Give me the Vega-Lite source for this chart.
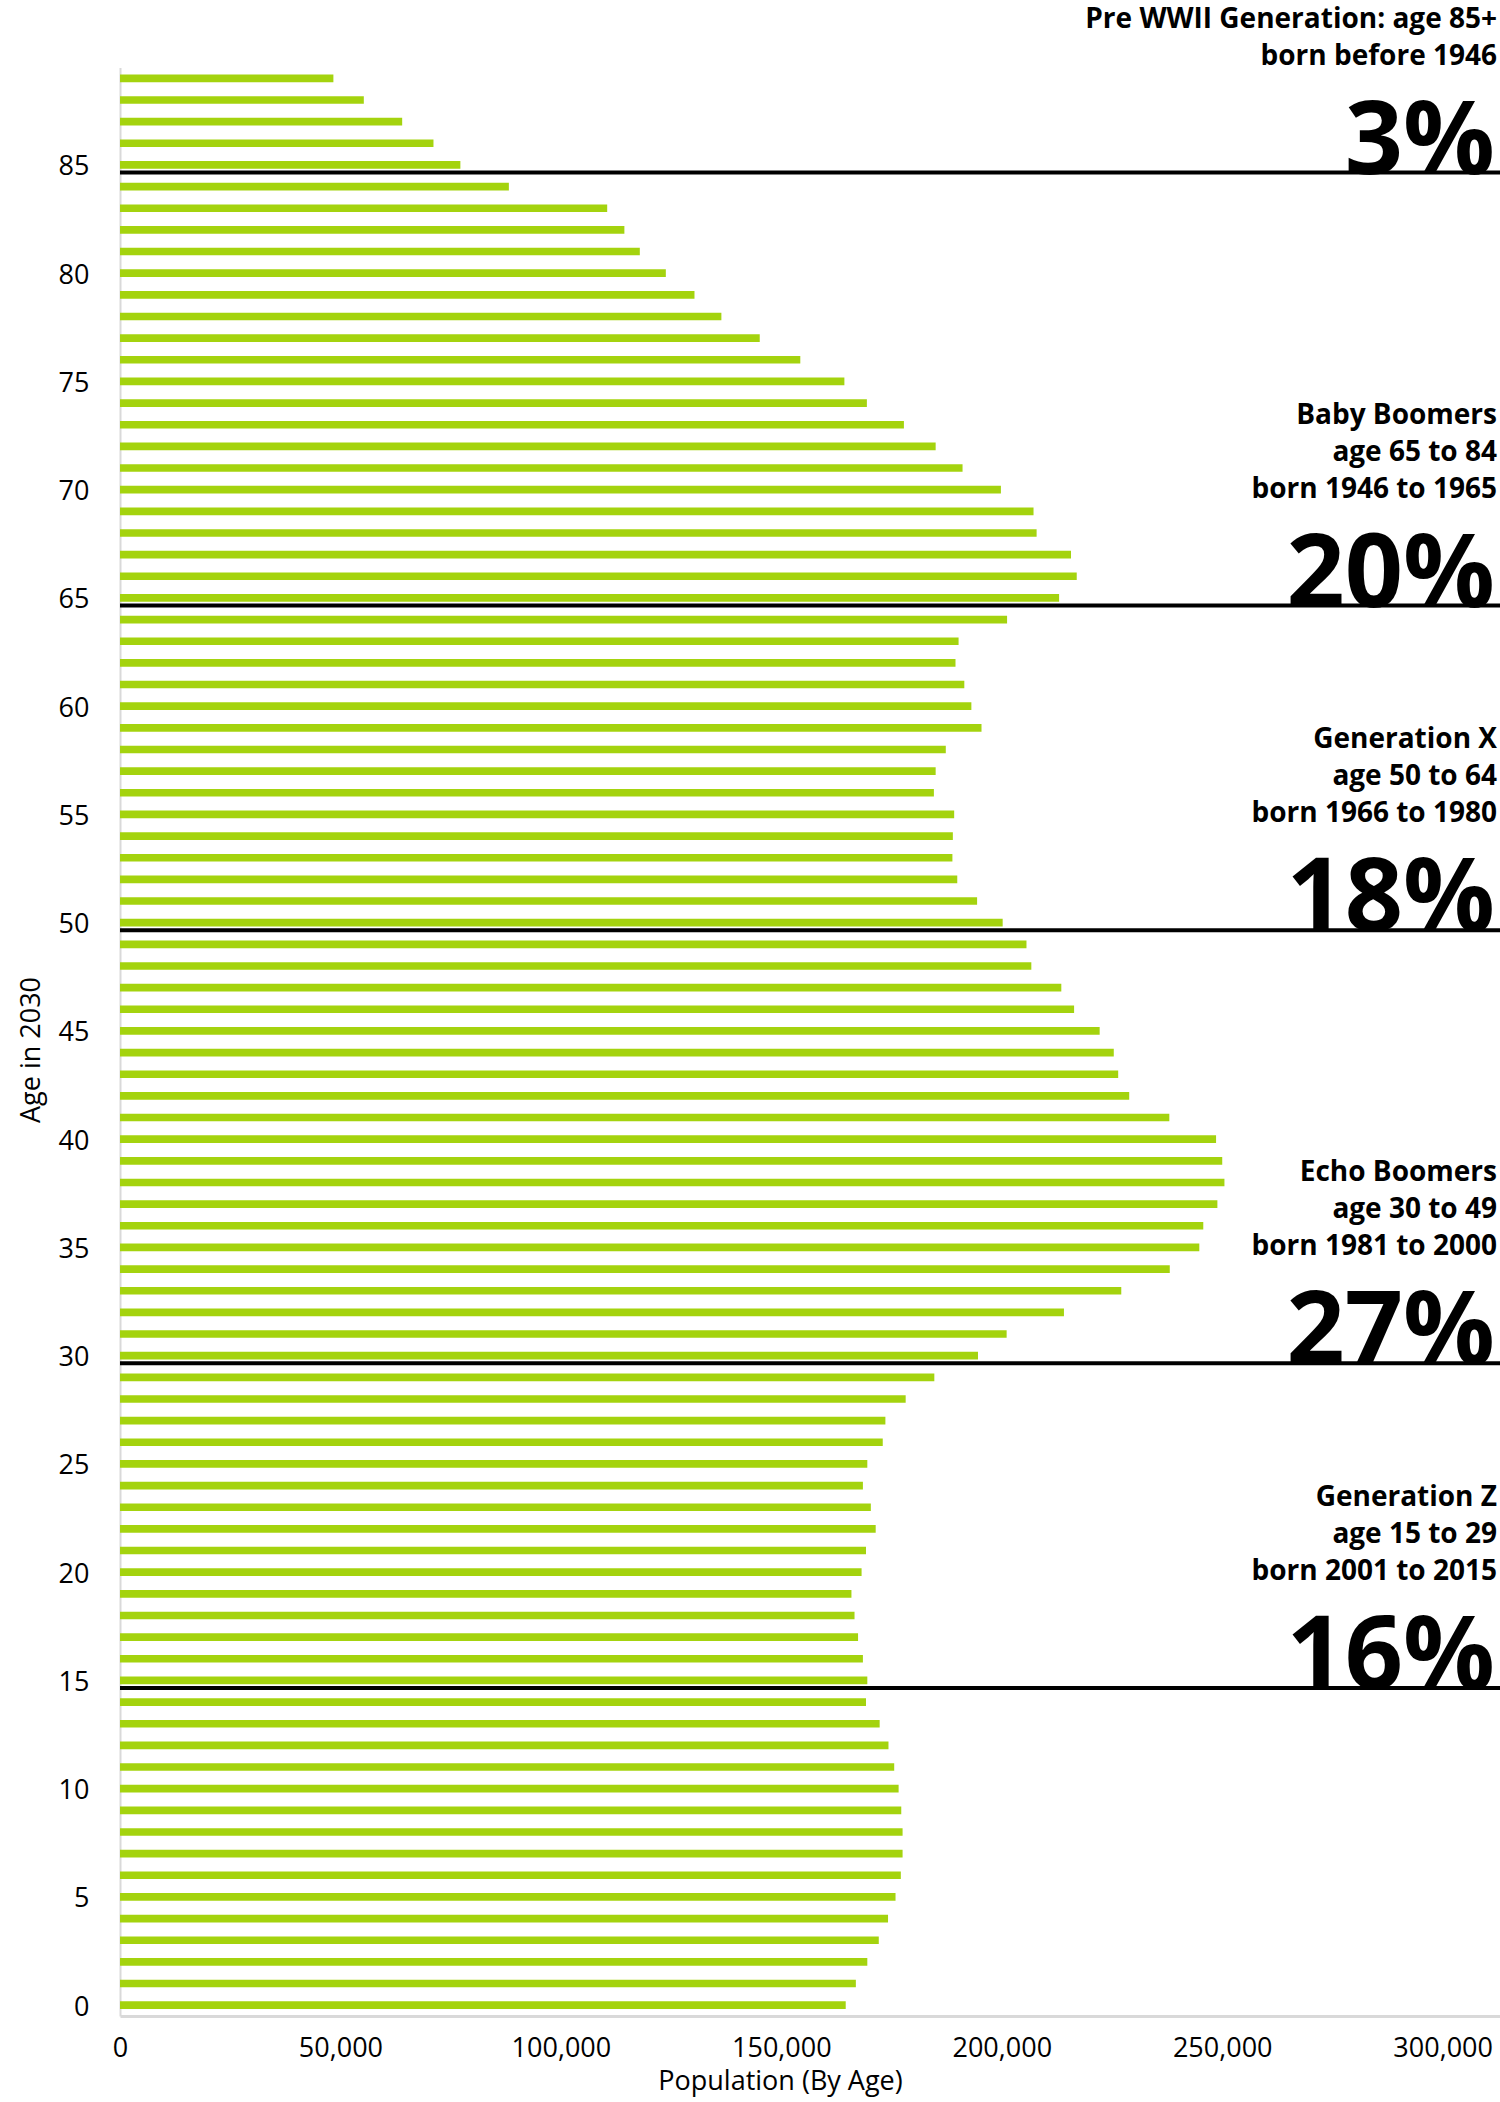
{
  "$schema": "https://vega.github.io/schema/vega-lite/v6.json",
  "width": 1380,
  "height": 1948.5,
  "autosize": {"type": "none"},
  "padding": {"left": 120, "top": 67.5, "right": 0, "bottom": 86},
  "background": "white",
  "config": {"view": {"stroke": null}, "font": "Open Sans"},
  "datasets": {
    "pop": [
      {"age": 89, "population": 48400}, {"age": 88, "population": 55300}, {"age": 87, "population": 64000},
      {"age": 86, "population": 71100}, {"age": 85, "population": 77200}, {"age": 84, "population": 88200},
      {"age": 83, "population": 110500}, {"age": 82, "population": 114400}, {"age": 81, "population": 117900},
      {"age": 80, "population": 123800}, {"age": 79, "population": 130300}, {"age": 78, "population": 136400},
      {"age": 77, "population": 145100}, {"age": 76, "population": 154300}, {"age": 75, "population": 164300},
      {"age": 74, "population": 169400}, {"age": 73, "population": 177800}, {"age": 72, "population": 185000},
      {"age": 71, "population": 191100}, {"age": 70, "population": 199800}, {"age": 69, "population": 207200},
      {"age": 68, "population": 207900}, {"age": 67, "population": 215700}, {"age": 66, "population": 217000},
      {"age": 65, "population": 213000}, {"age": 64, "population": 201200}, {"age": 63, "population": 190200},
      {"age": 62, "population": 189500}, {"age": 61, "population": 191500}, {"age": 60, "population": 193100},
      {"age": 59, "population": 195400}, {"age": 58, "population": 187300}, {"age": 57, "population": 185000},
      {"age": 56, "population": 184600}, {"age": 55, "population": 189200}, {"age": 54, "population": 188900},
      {"age": 53, "population": 188800}, {"age": 52, "population": 189900}, {"age": 51, "population": 194400},
      {"age": 50, "population": 200200}, {"age": 49, "population": 205600}, {"age": 48, "population": 206700},
      {"age": 47, "population": 213500}, {"age": 46, "population": 216400}, {"age": 45, "population": 222200},
      {"age": 44, "population": 225400}, {"age": 43, "population": 226400}, {"age": 42, "population": 228900},
      {"age": 41, "population": 238000}, {"age": 40, "population": 248600}, {"age": 39, "population": 250000},
      {"age": 38, "population": 250500}, {"age": 37, "population": 248900}, {"age": 36, "population": 245700},
      {"age": 35, "population": 244800}, {"age": 34, "population": 238100}, {"age": 33, "population": 227100},
      {"age": 32, "population": 214100}, {"age": 31, "population": 201100}, {"age": 30, "population": 194600},
      {"age": 29, "population": 184700}, {"age": 28, "population": 178200}, {"age": 27, "population": 173600},
      {"age": 26, "population": 173000}, {"age": 25, "population": 169500}, {"age": 24, "population": 168500},
      {"age": 23, "population": 170300}, {"age": 22, "population": 171400}, {"age": 21, "population": 169200},
      {"age": 20, "population": 168200}, {"age": 19, "population": 165900}, {"age": 18, "population": 166600},
      {"age": 17, "population": 167400}, {"age": 16, "population": 168500}, {"age": 15, "population": 169500},
      {"age": 14, "population": 169200}, {"age": 13, "population": 172300}, {"age": 12, "population": 174300},
      {"age": 11, "population": 175600}, {"age": 10, "population": 176600}, {"age": 9, "population": 177200},
      {"age": 8, "population": 177500}, {"age": 7, "population": 177500}, {"age": 6, "population": 177100},
      {"age": 5, "population": 175900}, {"age": 4, "population": 174200}, {"age": 3, "population": 172100},
      {"age": 2, "population": 169500}, {"age": 1, "population": 166900}, {"age": 0, "population": 164600}
    ],
    "groups": [
      {"age": 85, "line1": "", "line2": "Pre WWII Generation: age 85+", "line3": "born before 1946", "pct": "3%"},
      {"age": 65, "line1": "Baby Boomers", "line2": "age 65 to 84", "line3": "born 1946 to 1965", "pct": "20%"},
      {"age": 50, "line1": "Generation X", "line2": "age 50 to 64", "line3": "born 1966 to 1980", "pct": "18%"},
      {"age": 30, "line1": "Echo Boomers", "line2": "age 30 to 49", "line3": "born 1981 to 2000", "pct": "27%"},
      {"age": 15, "line1": "Generation Z", "line2": "age 15 to 29", "line3": "born 2001 to 2015", "pct": "16%"}
    ]
  },
  "layer": [
    {
      "data": {"name": "pop"},
      "mark": {"type": "bar", "color": "#a4d30e"},
      "encoding": {
        "y": {
          "field": "age",
          "type": "ordinal",
          "scale": {
            "domain": [89,88,87,86,85,84,83,82,81,80,79,78,77,76,75,74,73,72,71,70,69,68,67,66,65,64,63,62,61,60,59,58,57,56,55,54,53,52,51,50,49,48,47,46,45,44,43,42,41,40,39,38,37,36,35,34,33,32,31,30,29,28,27,26,25,24,23,22,21,20,19,18,17,16,15,14,13,12,11,10,9,8,7,6,5,4,3,2,1,0],
            "paddingInner": 0.645,
            "paddingOuter": 0.3225
          },
          "axis": {
            "values": [0,5,10,15,20,25,30,35,40,45,50,55,60,65,70,75,80,85],
            "title": "Age in 2030",
            "labelFont": "Open Sans",
            "labelFontSize": 27,
            "labelColor": "#000000",
            "labelAngle": 0,
            "labelOffset": 2.5,
            "ticks": false,
            "tickSize": 0,
            "labelPadding": 31,
            "domainColor": "#d9d9d9",
            "domainWidth": 2,
            "grid": false,
            "titleFont": "Open Sans",
            "titleFontSize": 27,
            "titleFontWeight": "normal",
            "titleColor": "#000000",
            "titleAngle": -90,
            "titleAlign": "center",
            "titleBaseline": "alphabetic",
            "titleX": -81,
            "titleY": 982
          }
        },
        "x": {
          "field": "population",
          "type": "quantitative",
          "scale": {"domain": [0, 313000], "nice": false},
          "axis": {
            "values": [0,50000,100000,150000,200000,250000,300000],
            "format": ",.0f",
            "title": "Population (By Age)",
            "labelFont": "Open Sans",
            "labelFontSize": 27,
            "labelColor": "#000000",
            "labelFlush": false,
            "ticks": false,
            "tickSize": 0,
            "labelPadding": 19,
            "domainColor": "#d9d9d9",
            "domainWidth": 3,
            "grid": false,
            "titleFont": "Open Sans",
            "titleFontSize": 27,
            "titleFontWeight": "normal",
            "titleColor": "#000000",
            "titleAlign": "center",
            "titleBaseline": "top",
            "titleX": 660,
            "titleY": 52
          }
        }
      }
    },
    {
      "data": {"name": "groups"},
      "mark": {"type": "rule", "color": "#000000", "strokeWidth": 4},
      "encoding": {
        "y": {"field": "age", "type": "ordinal", "bandPosition": 1.5}
      }
    },
    {
      "data": {"name": "groups"},
      "mark": {"type": "text", "align": "right", "baseline": "alphabetic", "font": "Open Sans", "fontWeight": "bold", "fontSize": 102, "color": "#000000", "dx": -5, "dy": 1},
      "encoding": {
        "y": {"field": "age", "type": "ordinal", "bandPosition": 1.5},
        "x": {"datum": 313000, "type": "quantitative"},
        "text": {"field": "pct"}
      }
    },
    {
      "data": {"name": "groups"},
      "mark": {"type": "text", "align": "right", "baseline": "alphabetic", "font": "Open Sans", "fontWeight": "bold", "fontSize": 28, "color": "#000000", "dx": -3, "dy": -108},
      "encoding": {
        "y": {"field": "age", "type": "ordinal", "bandPosition": 1.5},
        "x": {"datum": 313000, "type": "quantitative"},
        "text": {"field": "line3"}
      }
    },
    {
      "data": {"name": "groups"},
      "mark": {"type": "text", "align": "right", "baseline": "alphabetic", "font": "Open Sans", "fontWeight": "bold", "fontSize": 28, "color": "#000000", "dx": -3, "dy": -145},
      "encoding": {
        "y": {"field": "age", "type": "ordinal", "bandPosition": 1.5},
        "x": {"datum": 313000, "type": "quantitative"},
        "text": {"field": "line2"}
      }
    },
    {
      "data": {"name": "groups"},
      "mark": {"type": "text", "align": "right", "baseline": "alphabetic", "font": "Open Sans", "fontWeight": "bold", "fontSize": 28, "color": "#000000", "dx": -3, "dy": -182},
      "encoding": {
        "y": {"field": "age", "type": "ordinal", "bandPosition": 1.5},
        "x": {"datum": 313000, "type": "quantitative"},
        "text": {"field": "line1"}
      }
    }
  ]
}
